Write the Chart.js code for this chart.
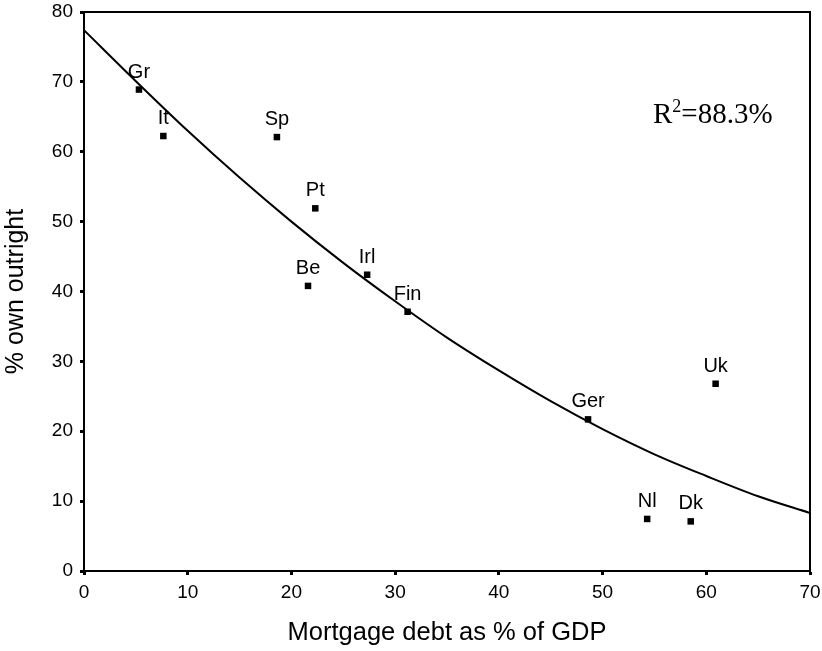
<!DOCTYPE html>
<html lang="en">
<head>
  <meta charset="UTF-8" />
  <title>Outright ownership vs mortgage debt</title>
  <script src="https://cdn.jsdelivr.net/npm/chart.js"></script>
  <style>
    body { margin: 0; background: #fff; }
    .wrap { width: 822px; height: 651px; }
  </style>
</head>
<body>
  <div class="wrap"><canvas id="chart" width="822" height="651"></canvas></div>

  <script>
    // countries
    const countries = ["Gr", "It", "Sp", "Pt", "Be", "Irl", "Fin", "Ger", "Uk", "Nl", "Dk"];
    const mortgageDebt = [5.3, 7.65, 18.6, 22.3, 21.6, 27.3, 31.2, 48.6, 60.9, 54.3, 58.5];
    const ownOutright = [68.9, 62.25, 62.1, 51.9, 40.8, 42.4, 37.1, 21.7, 26.8, 7.45, 7.1];

    // trend curve, values
    const trendX = [0, 5, 10, 15, 20, 25, 30, 35, 40, 45, 50, 55, 60, 65, 70];
    const trendY = [77.4, 70.1, 63.0, 56.3, 50.0, 44.1, 38.6, 33.4, 28.7, 24.3, 20.3, 16.7, 13.6, 10.7, 8.3];

    const rSquared = "88.3%";

    const xTitle = "Mortgage debt as % of GDP";
    const yTitle = "% own outright";

    const FONT = "'Liberation Sans', Arial, sans-serif";
    const SERIF = "'Liberation Serif', 'Times New Roman', serif";

    const points = mortgageDebt.map((x, i) => ({ x, y: ownOutright[i] }));
    const trend = trendX.map((x, i) => ({ x, y: trendY[i] }));

    // box round the plot, labels above the points, R² note
    const extras = {
      id: "extras",
      afterDatasetsDraw(chart) {
        const ctx = chart.ctx;
        const a = chart.chartArea;
        ctx.save();
        ctx.strokeStyle = "#000";
        ctx.lineWidth = 2;
        ctx.strokeRect(a.left, a.top, a.right - a.left, a.bottom - a.top);

        ctx.fillStyle = "#000";
        ctx.font = "20px " + FONT;
        ctx.textAlign = "center";
        ctx.textBaseline = "alphabetic";
        const meta = chart.getDatasetMeta(0);
        meta.data.forEach((pt, i) => {
          ctx.fillText(countries[i], pt.x, pt.y - 12);
        });

        ctx.textAlign = "left";
        ctx.font = "29px " + SERIF;
        let x = 653, y = 123;
        ctx.fillText("R", x, y);
        x += ctx.measureText("R").width;
        ctx.font = "18px " + SERIF;
        ctx.fillText("2", x, y - 11);
        x += ctx.measureText("2").width;
        ctx.font = "29px " + SERIF;
        ctx.fillText("=" + rSquared, x, y);
        ctx.restore();
      }
    };

    new Chart(document.getElementById("chart"), {
      type: "scatter",
      data: {
        datasets: [
          {
            data: points,
            pointStyle: "rect",
            pointRadius: 4.6,
            backgroundColor: "#000",
            borderColor: "#000",
            borderWidth: 0
          },
          {
            data: trend,
            showLine: true,
            pointRadius: 0,
            borderColor: "#000",
            borderWidth: 2,
            cubicInterpolationMode: "monotone"
          }
        ]
      },
      options: {
        responsive: false,
        animation: false,
        layout: { padding: { top: 12, right: 12, left: 0, bottom: 0 } },
        plugins: { legend: { display: false }, tooltip: { enabled: false } },
        scales: {
          x: {
            type: "linear",
            min: 0, max: 70,
            ticks: { stepSize: 10, color: "#000", padding: 6, font: { family: FONT, size: 19 } },
            grid: { drawOnChartArea: false, tickLength: 4, tickWidth: 3, color: "#000" },
            border: { color: "#000", width: 2 },
            title: { display: true, text: xTitle, color: "#000", font: { family: FONT, size: 25.5 }, padding: { top: 0, bottom: 3 } },
            afterFit(s) { s.height = 80; s.paddingLeft = 0; s.paddingRight = 0; }
          },
          y: {
            min: 0, max: 80,
            ticks: { stepSize: 10, color: "#000", padding: 7, font: { family: FONT, size: 19 } },
            grid: { drawOnChartArea: false, tickLength: 4, tickWidth: 3, color: "#000" },
            border: { color: "#000", width: 2 },
            title: { display: true, text: yTitle, color: "#000", font: { family: FONT, size: 25 }, padding: { top: 1, bottom: 0 } },
            afterFit(s) { s.width = 84; s.paddingTop = 0; s.paddingBottom = 0; }
          }
        }
      },
      plugins: [extras]
    });
  </script>
</body>
</html>
